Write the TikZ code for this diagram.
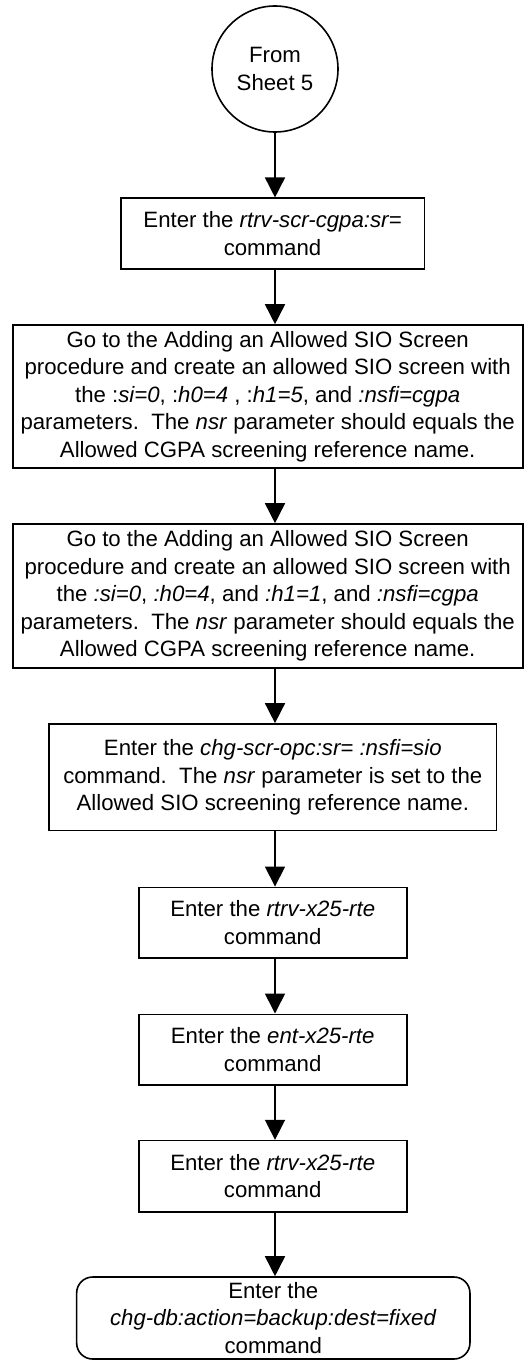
\documentclass[tikz,border=0pt]{standalone}
\usepackage{fontspec}
\setmainfont{Liberation Sans}
\usetikzlibrary{arrows.meta}
\tikzset{
  box/.style={draw, line width=1.6pt, rectangle, align=center, inner sep=0pt,
    font=\fontsize{22.2}{27.5}\selectfont},
  term/.style={box, rounded corners=16pt},
  conn/.style={draw, line width=1.6pt, -{Triangle[length=20pt,width=20pt]}},
}
\begin{document}
\begin{tikzpicture}[x=1pt,y=-1pt]
\useasboundingbox (0,0) rectangle (528,1362);
\node[box, circle, minimum size=126pt] (c) at (275,69) {From\\Sheet 5};
\node[box, minimum width=303.6pt, minimum height=70.7pt] (b1) at (272.5,233.6)
  {Enter the \textit{rtrv-scr-cgpa:sr=}\\command};
\node[box, minimum width=510pt, minimum height=143pt] (b2) at (267.7,396.5)
  {Go to the Adding an Allowed SIO Screen\\
   procedure and create an allowed SIO screen with\\
   the :\textit{si=0}, :\textit{h0=4} , :\textit{h1=5}, and \textit{:nsfi=cgpa}\\
   parameters.\ \ The \textit{nsr} parameter should equals the\\
   Allowed CGPA screening reference name.};
\node[box, minimum width=510pt, minimum height=144pt] (b3) at (267.7,596)
  {Go to the Adding an Allowed SIO Screen\\
   procedure and create an allowed SIO screen with\\
   the \textit{:si=0}, \textit{:h0=4}, and \textit{:h1=1}, and \textit{:nsfi=cgpa}\\
   parameters.\ \ The \textit{nsr} parameter should equals the\\
   Allowed CGPA screening reference name.};
\node[box, minimum width=447.7pt, minimum height=106.7pt] (b4) at (272.8,777.3)
  {Enter the \textit{chg-scr-opc:sr= :nsfi=sio}\\
   command.\ \ The \textit{nsr} parameter is set to the\\
   Allowed SIO screening reference name.};
\node[box, minimum width=268pt, minimum height=70.7pt] (b5) at (272.7,922.7)
  {Enter the \textit{rtrv-x25-rte}\\command};
\node[box, minimum width=268pt, minimum height=70.4pt] (b6) at (272.7,1049.5)
  {Enter the \textit{ent-x25-rte}\\command};
\node[box, minimum width=268pt, minimum height=71.3pt] (b7) at (272.7,1176.3)
  {Enter the \textit{rtrv-x25-rte}\\command};
\node[term, minimum width=393.3pt, minimum height=82pt] (e) at (273.3,1318)
  {Enter the\\\textit{chg-db:action=backup:dest=fixed}\\command};
\draw[conn] (c.south) -- (c.south |- b1.north);
\draw[conn] (b1.south -| c.south) -- (c.south |- b2.north);
\draw[conn] (b2.south -| c.south) -- (c.south |- b3.north);
\draw[conn] (b3.south -| c.south) -- (c.south |- b4.north);
\draw[conn] (b4.south -| c.south) -- (c.south |- b5.north);
\draw[conn] (b5.south -| c.south) -- (c.south |- b6.north);
\draw[conn] (b6.south -| c.south) -- (c.south |- b7.north);
\draw[conn] (b7.south -| c.south) -- (c.south |- e.north);
\end{tikzpicture}
\end{document}
